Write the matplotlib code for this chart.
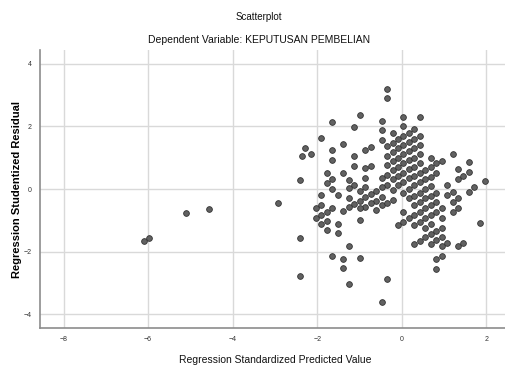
import numpy as np
import matplotlib.pyplot as plt

plt.rcParams['font.family'] = ['Liberation Sans', 'DejaVu Sans']

# predicted (x) and studentized residual (y)
pred_core = [-0.48] * 6 + [-0.35] * 8 + [-0.22] * 8 + [-0.09] * 7 + [0.03] * 11 \
    + [0.17] * 9 + [0.29] * 12 + [0.43] * 12 + [0.55] * 8 + [0.68] * 10 + [0.80] * 9 \
    + [0.94] * 7 + [1.06] * 3 + [1.20] * 4 + [1.32] * 5 + [1.45] * 2 + [1.58] * 3 \
    + [1.71] * 1 + [1.84] * 1 + [1.97] * 1
resid_core = [
    2.18, 1.87, 1.57, 0.36, -0.25, -0.51,
    3.19, 2.90, 1.37, 1.05, 0.77, 0.45, 0.14, -0.44,
    1.78, 1.48, 1.19, 0.89, 0.61, 0.31, -0.03, -0.35,
    1.59, 1.30, 1.00, 0.71, 0.42, 0.13, -1.15,
    2.30, 2.01, 1.69, 1.41, 1.11, 0.82, 0.52, 0.23, -0.14, -0.74, -1.06,
    1.78, 1.51, 1.21, 0.93, 0.63, 0.34, -0.01, -0.30, -0.94,
    1.91, 1.59, 1.30, 1.00, 0.71, 0.42, 0.13, -0.21, -0.51, -0.83, -1.15, -1.74,
    2.31, 1.69, 1.41, 1.11, 0.82, 0.52, 0.23, -0.12, -0.40, -0.72, -1.04, -1.65,
    0.61, 0.31, -0.01, -0.30, -0.62, -0.94, -1.24, -1.54,
    1.00, 0.71, 0.39, 0.10, -0.21, -0.51, -0.83, -1.13, -1.44, -1.74,
    0.82, 0.52, -0.12, -0.40, -0.72, -1.33, -1.63, -2.24, -2.56,
    0.90, -0.92, -1.23, -1.52, -1.82, -2.14, -0.60,
    0.12, -0.19, -1.71,
    1.13, -0.09, -0.40, -0.72,
    0.63, 0.33, -0.30, -0.60, -1.81,
    0.43, -1.71,
    0.85, 0.54, -0.09,
    0.05,
    -1.09,
    0.26,
]

pred_left = [
    -0.35, -0.48,
    -1.77, -1.65, -1.64, -1.25, -1.13, -1.25, -0.99, -0.87, -0.73, -0.61, -0.48,
    -1.90, -1.51, -1.25, -0.99, -0.87, -0.61, -1.90, -2.02, -1.64, -1.77, -1.13,
    -1.25, -1.38, -0.87, -0.73, -0.61, -2.03, -1.90, -1.90, -1.77, -1.77, -1.51,
    -1.51, -0.99, -0.99, -2.42, -1.25, -1.65, -1.38, -0.99, -1.38, -2.42, -1.25,
    -0.99, -2.37, -1.65, -1.12, -1.90, -1.38, -2.28, -2.15, -1.65, -0.73, -0.87,
    -1.12, -1.65, -0.73, -0.87, -1.12, -1.77, -1.38, -2.41, -0.87,
    -6.10, -5.98, -5.10, -4.57, -2.92,
]
resid_left = [
    -2.88, -3.60,
    0.20, 0.31, 0.00, 0.30, 0.13, 0.02, -0.06, 0.05, -0.16, -0.05, 0.05,
    -0.20, -0.20, -0.28, -0.38, -0.26, -0.37, -0.51, -0.62, -0.62, -0.72, -0.48,
    -0.56, -0.70, -0.56, -0.46, -0.67, -0.91, -0.82, -1.13, -1.01, -1.31, -1.12,
    -1.42, -0.99, -0.62, -1.56, -1.81, -2.14, -2.23, -2.20, -2.53, -2.79, -3.04,
    2.37, 1.05, 2.14, 1.97, 1.62, 1.44, 1.31, 1.12, 1.24, 1.35, 1.26,
    1.04, 0.92, 0.74, 0.66, 0.73, 0.52, 0.52, 0.29, 0.35,
    -1.66, -1.55, -0.78, -0.65, -0.46,
]

x = np.array(pred_core + pred_left)
y = np.array(resid_core + resid_left)

xticks = [-8, -6, -4, -2, 0, 2]
yticks = [-4, -2, 0, 2, 4]

fig = plt.figure(figsize=(5.05, 3.67), dpi=100)
ax = fig.add_axes([0.079, 0.106, 0.921, 0.758])

ax.scatter(x, y, s=17, c='#616161', edgecolors='#333333', linewidths=0.6, zorder=3)

ax.set_xlim(-8.56, 2.44)
ax.set_ylim(-4.44, 4.44)
ax.set_xticks(xticks)
ax.set_yticks(yticks)
ax.tick_params(length=0, labelsize=5, colors='#333333', pad=6)
ax.grid(True, color='#d9d9d9', linewidth=1)
ax.set_axisbelow(True)
for s in ['top', 'right']:
    ax.spines[s].set_visible(False)
for s in ['left', 'bottom']:
    ax.spines[s].set_color('#8c8c8c')
    ax.spines[s].set_linewidth(1.2)

ax.set_xlabel('Regression Standardized Predicted Value', fontsize=7.5, color='#111111')
ax.xaxis.set_label_coords(0.505, -0.115)
ax.xaxis.label.set_va('center')
ax.set_ylabel('Regression Studentized Residual', fontsize=8, fontweight='bold')
ax.yaxis.set_label_coords(-0.049, 0.5)
ax.yaxis.label.set_va('center')

fig.text(0.513, 0.953, 'Scatterplot', ha='center', va='center', fontsize=7, color='#111111')
fig.text(0.513, 0.891, 'Dependent Variable: KEPUTUSAN PEMBELIAN', ha='center', va='center',
         fontsize=7.5, color='#111111')

fig.savefig('out.png', dpi=100)
